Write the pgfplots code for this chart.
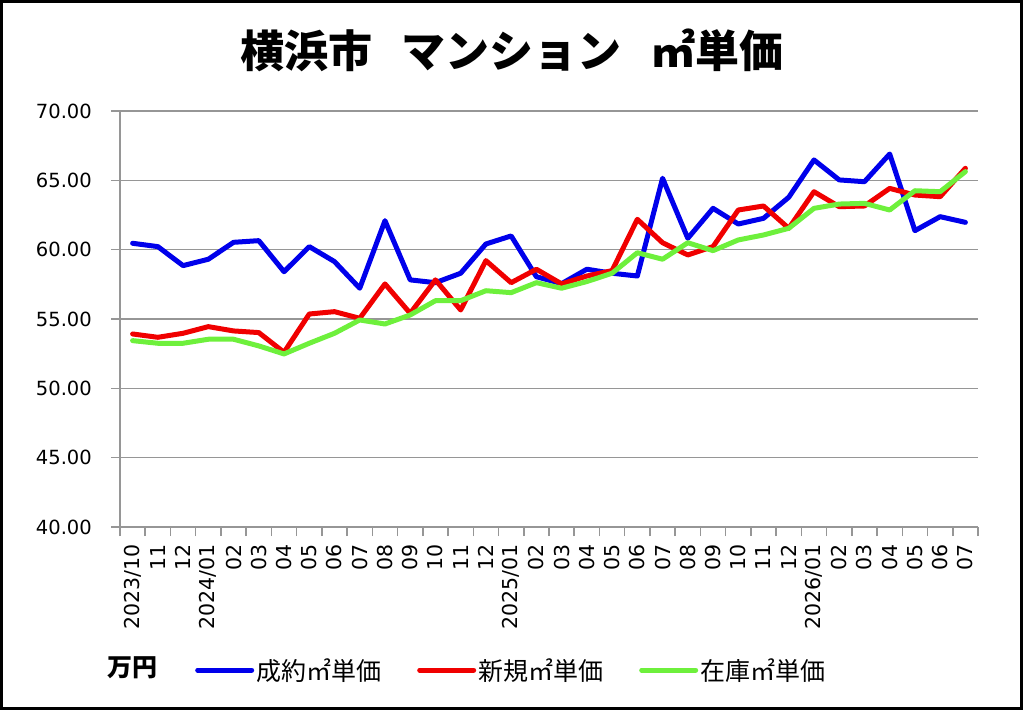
\documentclass[border=0pt]{standalone}
\usepackage{pgfplots}
\pgfplotsset{compat=1.18}
\usepackage{pgfplotstable}
\usepackage{fontspec}
\setmainfont{DejaVu Sans}
\newfontfamily\cjk{Noto Sans CJK JP}
\definecolor{cblue}{RGB}{0,0,235}
\definecolor{cred}{RGB}{240,0,0}
\definecolor{cgreen}{RGB}{110,240,60}
\definecolor{cgrid}{RGB}{150,150,150}

\pgfplotstableread{
x y
0 60.46
1 60.22
2 58.85
3 59.31
4 60.53
5 60.65
6 58.41
7 60.22
8 59.14
9 57.22
10 62.09
11 57.82
12 57.62
13 58.30
14 60.41
15 60.99
16 58.05
17 57.55
18 58.59
19 58.30
20 58.10
21 65.15
22 60.82
23 62.98
24 61.85
25 62.26
26 63.78
27 66.47
28 65.03
29 64.90
30 66.90
31 61.37
32 62.38
33 61.97
}\seiyaku

\pgfplotstableread{
x y
0 53.92
1 53.68
2 53.97
3 54.45
4 54.14
5 54.02
6 52.60
7 55.36
8 55.53
9 55.05
10 57.53
11 55.41
12 57.82
13 55.65
14 59.21
15 57.62
16 58.59
17 57.53
18 58.10
19 58.49
20 62.19
21 60.50
22 59.62
23 60.22
24 62.86
25 63.15
26 61.54
27 64.18
28 63.10
29 63.15
30 64.42
31 63.94
32 63.82
33 65.87
}\shinki

\pgfplotstableread{
x y
0 53.44
1 53.25
2 53.25
3 53.54
4 53.54
5 53.06
6 52.48
7 53.25
8 53.97
9 54.93
10 54.64
11 55.29
12 56.32
13 56.32
14 57.04
15 56.90
16 57.62
17 57.22
18 57.70
19 58.30
20 59.78
21 59.31
22 60.50
23 59.93
24 60.70
25 61.06
26 61.54
27 62.98
28 63.29
29 63.34
30 62.86
31 64.25
32 64.18
33 65.63
}\zaiko

\begin{document}
\begin{tikzpicture}
\path[use as bounding box] (0pt,0pt) rectangle (1024pt,710pt);
\draw[line width=2.5pt] (1.5pt,1.5pt) rectangle (1021.5pt,708.5pt);
\node[font=\cjk\bfseries\fontsize{44}{50}\selectfont] at (512pt,660pt)
  {横浜市\hspace{30pt}マンション\hspace{30pt}㎡単価};
\node[anchor=west,font=\cjk\bfseries\fontsize{25}{30}\selectfont] at (104pt,42pt) {万円};
\begin{axis}[
  at={(120pt,183pt)}, anchor=south west,
  scale only axis, width=858pt, height=416pt,
  xmin=-0.5, xmax=33.5, ymin=40, ymax=70,
  axis lines*=left,
  axis line style={cgrid, line width=1.5pt},
  ytick={40,45,...,70},
  ymajorgrids,
  grid style={cgrid, line width=1.5pt},
  tick align=outside,
  major tick length=9pt,
  tick style={cgrid, line width=1.5pt},
  xtick={-0.5,0.5,...,33.5},
  xticklabels={},
  extra x ticks={0,...,33},
  extra x tick labels={2023/10,11,12,2024/01,02,03,04,05,06,07,08,09,10,11,12,2025/01,02,03,04,05,06,07,08,09,10,11,12,2026/01,02,03,04,05,06,07},
  extra x tick style={major tick length=0pt},
  xticklabel style={rotate=90, anchor=east, font=\fontsize{20.5}{24}\selectfont, inner sep=0pt, xshift=-17pt},
  yticklabel style={anchor=east, font=\fontsize{19.5}{24}\selectfont, inner sep=0pt, xshift=-19pt},
  /pgf/number format/.cd, fixed, fixed zerofill, precision=2, assume math mode=true,
  /pgfplots/.cd,
  legend style={at={(0.0874,-0.344)}, anchor=west, draw=none, fill=none,
    font=\cjk\fontsize{25}{30}\selectfont, legend columns=3,
    /tikz/every even column/.append style={column sep=34pt},
    inner sep=0pt, cells={anchor=west}},
  legend image code/.code={\draw[#1] (0pt,0pt) -- (54pt,0pt);},
  legend cell align=left,
  every axis plot/.append style={line width=5pt, line join=round, line cap=round},
]
\addplot[cblue] table[x=x,y=y] {\seiyaku};
\addplot[cred] table[x=x,y=y] {\shinki};
\addplot[cgreen] table[x=x,y=y] {\zaiko};
\legend{成約㎡単価,新規㎡単価,在庫㎡単価}
\end{axis}
\end{tikzpicture}
\end{document}
